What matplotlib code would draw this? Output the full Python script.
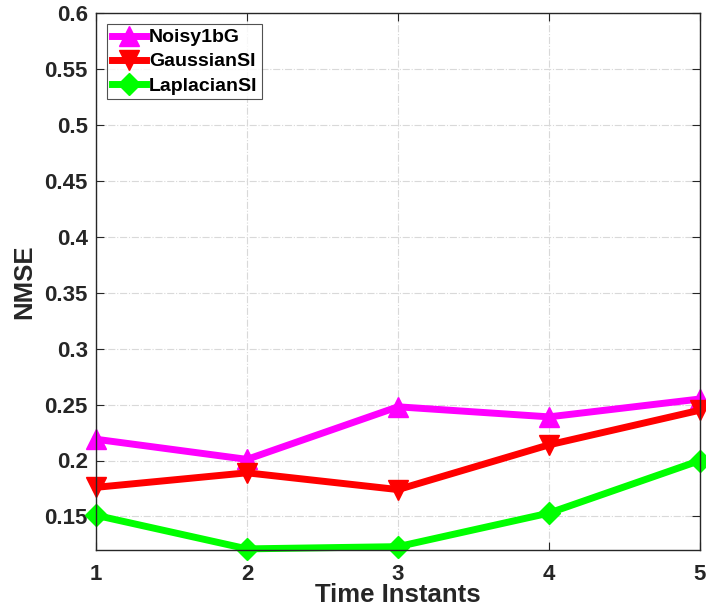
import matplotlib
matplotlib.use("Agg")
import matplotlib.pyplot as plt

x = [1, 2, 3, 4, 5]
noisy1bg = [0.219, 0.201, 0.248, 0.239, 0.255]
gaussian_si = [0.176, 0.189, 0.174, 0.214, 0.245]
laplacian_si = [0.151, 0.121, 0.123, 0.153, 0.200]
labels = ["Noisy1bG", "GaussianSI", "LaplacianSI"]
xticks = [1, 2, 3, 4, 5]
yticks = [0.15, 0.2, 0.25, 0.3, 0.35, 0.4, 0.45, 0.5, 0.55, 0.6]

plt.rcParams['font.family'] = ['Liberation Sans', 'DejaVu Sans']
plt.rcParams['font.weight'] = 'bold'

fig = plt.figure(figsize=(7.06, 6.09), dpi=100)
ax = fig.add_axes([96/706, 1 - 550/609, (700-96)/706, (550-13)/609])

lw = 5
ax.plot(x, noisy1bg, color='#ff00ff', lw=lw, marker='^', ms=14, label=labels[0], clip_on=False)
ax.plot(x, gaussian_si, color='#ff0000', lw=lw, marker='v', ms=14, label=labels[1], clip_on=False)
ax.plot(x, laplacian_si, color='#00ff00', lw=lw, marker='D', ms=11, label=labels[2], clip_on=False)

ax.set_xlim(1, 5)
ax.set_ylim(0.12, 0.6)
ax.set_xticks(xticks)
ax.set_yticks(yticks)
ax.set_yticklabels([f"{v:g}" for v in yticks])
ax.grid(True, color='#d9d9d9', linestyle='-.', linewidth=0.8)
ax.set_axisbelow(True)
for s in ax.spines.values():
    s.set_color('#262626')
    s.set_linewidth(1.0)
ax.tick_params(direction='in', length=6, width=0.8, colors='#262626',
               labelsize=16, right=True, top=True)
ax.tick_params(axis='x', pad=10)
ax.tick_params(axis='y', pad=6)
for t in ax.get_xticklabels() + ax.get_yticklabels():
    t.set_fontweight('bold')
ax.set_xlabel("Time Instants", fontsize=18.5, fontweight='bold', color='#262626', labelpad=-1)
ax.set_ylabel("NMSE", fontsize=18.5, fontweight='bold', color='#262626', labelpad=6)

leg = ax.legend(loc='upper left', bbox_to_anchor=(11/604, 1 - 11/537), fontsize=14,
                frameon=True, fancybox=False, edgecolor='#262626', handlelength=1.75,
                borderpad=0.25, labelspacing=0.33, handletextpad=0.15, borderaxespad=0)
leg.get_frame().set_linewidth(0.8)
for t in leg.get_texts():
    t.set_fontweight('bold')

fig.savefig("out.png", dpi=100)
